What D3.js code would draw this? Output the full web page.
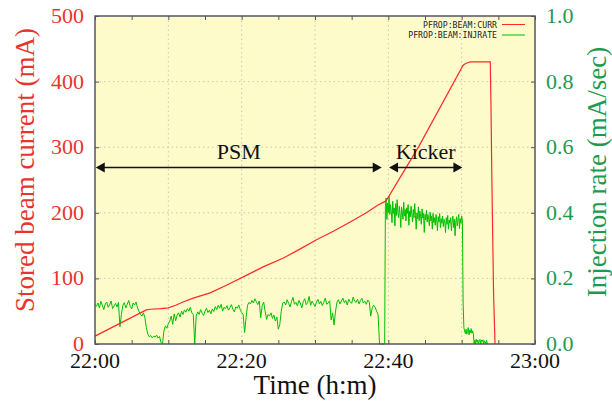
<!DOCTYPE html>
<meta charset="utf-8">
<style>
    body { margin: 0; background: #fff; }
    text { font-family: "Liberation Serif", "Times New Roman", serif; }
    .grid line { stroke: #c9c6b0; stroke-width: 1; stroke-dasharray: 1.5,3; }
    .legend text { font-family: "DejaVu Sans Mono", monospace; font-size: 8.2px; fill: #222; }
</style>
<svg width="612" height="403"></svg>
<script src="https://d3js.org/d3.v7.min.js"></script>
<script>
    // stored beam current, [minutes after 22:00, mA]
    var beamCurrent = [
        [0, 12], [7, 52], [7.5, 53], [9, 54], [10, 55], [11, 59], [12, 64], [13.4, 70],
        [15.7, 78], [18, 90], [20.7, 105], [23, 118], [25.7, 131], [28, 145], [30.2, 159],
        [32.5, 172], [34.8, 186], [37, 200], [38.6, 212], [39.5, 217], [39.8, 220],
        [44.2, 302], [50.2, 425], [50.6, 428], [51.2, 430], [53.9, 430],
        [54.0, 362], [54.1, 265], [54.35, 77], [54.55, 0]
    ];

    // injection rate (mA/sec) sampled every 12 s from 22:00:00 (PSM period)
    var injStartPSM = 0, injStepPSM = 0.2;
    var injRatePSM = [
        0.120,0.115,0.125,0.110,0.130,0.118,0.105,0.122,0.128,0.112,   // 22:00
        0.119,0.131,0.108,0.116,0.124,0.113,0.127,0.053,0.090,0.118,   // 22:02
        0.126,0.110,0.121,0.133,0.115,0.107,0.125,0.119,0.128,0.110,   // 22:04
        0.100,0.090,0.085,0.095,0.080,0.050,0.030,0.022,0.026,0.019,   // 22:06
        0.024,0.021,0.027,0.018,0.023,0.005,0.000,0.040,0.055,0.048,   // 22:08
        0.062,0.070,0.085,0.060,0.092,0.071,0.088,0.095,0.082,0.100,   // 22:10
        0.090,0.104,0.097,0.108,0.100,0.112,0.095,0.090,0.000,0.085,   // 22:12
        0.098,0.090,0.105,0.094,0.087,0.100,0.109,0.096,0.103,0.092,   // 22:14
        0.107,0.099,0.114,0.105,0.118,0.109,0.121,0.100,0.112,0.108,   // 22:16
        0.117,0.103,0.111,0.120,0.106,0.098,0.113,0.109,0.119,0.105,   // 22:18
        0.096,0.090,0.035,0.080,0.118,0.127,0.122,0.133,0.125,0.138,   // 22:20
        0.129,0.120,0.131,0.080,0.117,0.128,0.100,0.075,0.090,0.085,   // 22:22
        0.095,0.078,0.088,0.070,0.082,0.045,0.060,0.100,0.125,0.128,   // 22:24
        0.119,0.135,0.124,0.113,0.130,0.142,0.121,0.127,0.116,0.133,   // 22:26
        0.125,0.110,0.129,0.138,0.120,0.126,0.145,0.118,0.131,0.123,   // 22:28
        0.114,0.128,0.136,0.122,0.130,0.117,0.127,0.140,0.121,0.125,   // 22:30
        0.132,0.073,0.095,0.058,0.100,0.128,0.135,0.122,0.131,0.140,   // 22:32
        0.126,0.133,0.119,0.137,0.129,0.124,0.143,0.131,0.127,0.136,   // 22:34
        0.122,0.133,0.139,0.125,0.130,0.121,0.134,0.128,0.085,0.110,   // 22:36
        0.118,0.112,0.100,0.090,0.000,0.000,0.000,0.000                // 22:38
    ];

    // injection rate sampled every 6 s from 22:39:24 (kicker period)
    var injStartKicker = 39.4, injStepKicker = 0.1;
    var injRateKicker = [
        0.000,0.000,0.420,0.445,0.380,0.430,0.400,0.450,0.395,0.425,   // 22:39.4
        0.405,0.370,0.435,0.398,0.415,0.360,0.428,0.392,0.440,0.402,   // 22:40.4
        0.385,0.420,0.396,0.355,0.418,0.402,0.380,0.432,0.390,0.410,   // 22:41.4
        0.375,0.415,0.398,0.425,0.362,0.405,0.388,0.420,0.395,0.372,   // 22:42.4
        0.410,0.385,0.428,0.392,0.350,0.400,0.382,0.418,0.376,0.405,   // 22:43.4
        0.390,0.365,0.412,0.384,0.398,0.340,0.395,0.378,0.408,0.372,   // 22:44.4
        0.395,0.380,0.360,0.402,0.375,0.390,0.350,0.398,0.370,0.385,   // 22:45.4
        0.362,0.395,0.378,0.345,0.388,0.372,0.398,0.355,0.382,0.368,   // 22:46.4
        0.390,0.358,0.380,0.372,0.340,0.385,0.365,0.392,0.350,0.378,   // 22:47.4
        0.368,0.385,0.345,0.375,0.390,0.355,0.380,0.330,0.372,0.388,   // 22:48.4
        0.360,0.378,0.395,0.352,0.382,0.368,0.390,0.375,0.125,0.050,   // 22:49.4
        0.040,0.032,0.045,0.030,0.038,0.050,0.028,0.042,0.035,0.047,   // 22:50.4
        0.033,0.040,0.030,0.000,0.012,0.000,0.015,0.005,0.012,0.000,   // 22:51.4
        0.010,0.014,0.000,0.012,0.008,0.013,0.000,0.010,0.006,0.000,   // 22:52.4
        0.011,0.000,0.000                                              // 22:53.4
    ];

    var xTicks = [0, 20, 40, 60];
    var xTickLabels = ["22:00", "22:20", "22:40", "23:00"];
    var leftTicks = [0, 100, 200, 300, 400, 500];
    var rightTicks = [0, 0.2, 0.4, 0.6, 0.8, 1.0];

    var legendNames = ["PFROP:BEAM:CURR", "PFROP:BEAM:INJRATE"];

    // annotations: [label, from minute, to minute, mA level]
    var periods = [
        ["PSM", 0.1, 39.1, 269],
        ["Kicker", 40.1, 50.1, 269]
    ];

    var red = "#ff2828", green = "#00c000";
    var redText = "#e8352b", greenText = "#1d9a4e";
    var serif = "'Liberation Serif', 'Times New Roman', serif";

    var svg = d3.select("svg");
    var pLeft = 95, pRight = 535, pTop = 16, pBottom = 344;

    var x = d3.scaleLinear().domain([0, 60]).range([pLeft, pRight]);
    var yL = d3.scaleLinear().domain([0, 500]).range([pBottom, pTop]);
    var yR = d3.scaleLinear().domain([0, 1]).range([pBottom, pTop]);

    svg.append("rect")
        .attr("x", pLeft).attr("y", pTop)
        .attr("width", pRight - pLeft).attr("height", pBottom - pTop)
        .attr("fill", "#fefbcb");

    // grid
    var grid = svg.append("g").attr("class", "grid");
    grid.selectAll(".gx").data(d3.range(10, 60, 10)).enter().append("line")
        .attr("x1", function(d) { return x(d); }).attr("x2", function(d) { return x(d); })
        .attr("y1", pTop).attr("y2", pBottom);
    grid.selectAll(".gy").data(d3.range(100, 500, 100)).enter().append("line")
        .attr("y1", function(d) { return yL(d); }).attr("y2", function(d) { return yL(d); })
        .attr("x1", pLeft).attr("x2", pRight);

    // injection rate
    var injPoints = injRatePSM.map(function(v, i) { return [injStartPSM + i * injStepPSM, v]; })
        .concat(injRateKicker.map(function(v, i) { return [injStartKicker + i * injStepKicker, v]; }));

    svg.append("path")
        .datum(injPoints)
        .attr("fill", "none")
        .attr("stroke", green)
        .attr("stroke-width", 1)
        .attr("d", d3.line()
            .x(function(d) { return x(d[0]); })
            .y(function(d) { return yR(d[1]); }));

    // beam current
    svg.append("path")
        .datum(beamCurrent)
        .attr("fill", "none")
        .attr("stroke", red)
        .attr("stroke-width", 1.2)
        .attr("d", d3.line()
            .x(function(d) { return x(d[0]); })
            .y(function(d) { return yL(d[1]); }));

    // axes (ticks pointing inwards, all four sides)
    var axisColor = "#555566";
    function styleAxis(g) {
        g.select(".domain").remove();
        g.selectAll(".tick line").attr("stroke", axisColor).attr("stroke-width", 1);
        g.selectAll(".tick text").remove();
    }
    var minorX = d3.range(0, 61, 5);
    svg.append("g").attr("transform", "translate(0," + pBottom + ")")
        .call(d3.axisBottom(x).tickValues(minorX).tickSizeInner(-4).tickSizeOuter(0)).call(styleAxis);
    svg.append("g").attr("transform", "translate(0," + pTop + ")")
        .call(d3.axisTop(x).tickValues(minorX).tickSizeInner(-4).tickSizeOuter(0)).call(styleAxis);
    svg.append("g").attr("transform", "translate(" + pLeft + ",0)")
        .call(d3.axisLeft(yL).tickValues(leftTicks).tickSizeInner(-4).tickSizeOuter(0)).call(styleAxis);
    svg.append("g").attr("transform", "translate(" + pRight + ",0)")
        .call(d3.axisRight(yR).tickValues(rightTicks).tickSizeInner(-4).tickSizeOuter(0)).call(styleAxis);

    svg.append("rect")
        .attr("x", pLeft).attr("y", pTop)
        .attr("width", pRight - pLeft).attr("height", pBottom - pTop)
        .attr("fill", "none").attr("stroke", axisColor).attr("stroke-width", 1.5);

    // tick labels
    svg.selectAll(".xl").data(xTicks).enter().append("text")
        .attr("x", function(d) { return x(d); })
        .attr("y", 368)
        .attr("text-anchor", "middle")
        .attr("font-family", serif)
        .attr("font-size", 22)
        .attr("fill", "#111")
        .text(function(d, i) { return xTickLabels[i]; });

    svg.selectAll(".yl").data(leftTicks).enter().append("text")
        .attr("x", 84)
        .attr("y", function(d) { return yL(d) + 7; })
        .attr("text-anchor", "end")
        .attr("font-family", serif)
        .attr("font-size", 22)
        .attr("fill", redText)
        .text(function(d) { return d; });

    svg.selectAll(".yr").data(rightTicks).enter().append("text")
        .attr("x", 546)
        .attr("y", function(d) { return yR(d) + 7; })
        .attr("font-family", serif)
        .attr("font-size", 22)
        .attr("fill", greenText)
        .text(function(d) { return d.toFixed(1); });

    // axis titles
    svg.append("text")
        .attr("transform", "translate(34,170) rotate(-90)")
        .attr("text-anchor", "middle")
        .attr("font-family", serif)
        .attr("font-size", 27)
        .attr("fill", redText)
        .text("Stored beam current (mA)");

    svg.append("text")
        .attr("transform", "translate(606,172) rotate(-90)")
        .attr("text-anchor", "middle")
        .attr("font-family", serif)
        .attr("font-size", 27)
        .attr("fill", greenText)
        .text("Injection rate (mA/sec)");

    svg.append("text")
        .attr("x", 315).attr("y", 394)
        .attr("text-anchor", "middle")
        .attr("font-family", serif)
        .attr("font-size", 27)
        .attr("fill", "#111")
        .text("Time (h:m)");

    // period annotations
    var ann = svg.append("g");
    periods.forEach(function(p) {
        var x1 = x(p[1]), x2 = x(p[2]), yy = yL(p[3]);
        ann.append("line")
            .attr("x1", x1 + 6).attr("x2", x2 - 6)
            .attr("y1", yy).attr("y2", yy)
            .attr("stroke", "#111").attr("stroke-width", 1.5);
        ann.append("path")
            .attr("d", "M" + x1 + "," + yy + "L" + (x1 + 9) + "," + (yy - 5) + "L" + (x1 + 9) + "," + (yy + 5) + "Z")
            .attr("fill", "#111");
        ann.append("path")
            .attr("d", "M" + x2 + "," + yy + "L" + (x2 - 9) + "," + (yy - 5) + "L" + (x2 - 9) + "," + (yy + 5) + "Z")
            .attr("fill", "#111");
        ann.append("text")
            .attr("x", (x1 + x2) / 2).attr("y", yy - 9)
            .attr("text-anchor", "middle")
            .attr("font-family", serif)
            .attr("font-size", 22)
            .attr("fill", "#111")
            .text(p[0]);
    });

    // legend
    var legend = svg.append("g").attr("class", "legend");
    [red, green].forEach(function(c, i) {
        var ly = 24.5 + i * 10.5;
        legend.append("text")
            .attr("x", 497).attr("y", ly + 3)
            .attr("text-anchor", "end")
            .text(legendNames[i]);
        legend.append("line")
            .attr("x1", 502).attr("x2", 525)
            .attr("y1", ly).attr("y2", ly)
            .attr("stroke", c).attr("stroke-width", 1);
    });
</script>
